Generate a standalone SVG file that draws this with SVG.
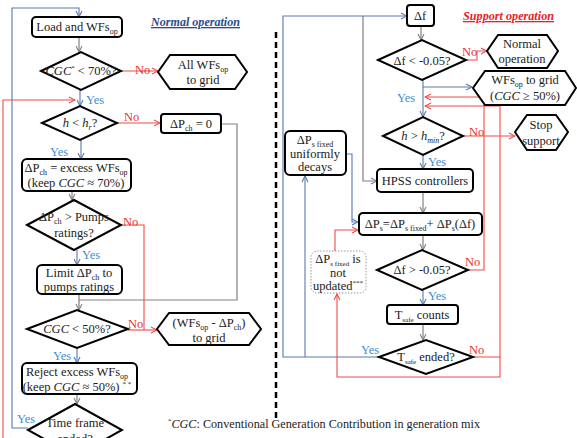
<svg xmlns="http://www.w3.org/2000/svg" width="577" height="438" viewBox="0 0 577 438" font-family="'Liberation Serif', 'DejaVu Serif', serif">
<style>
text{font-family:'Liberation Serif','DejaVu Serif',serif;font-size:12.5px;fill:#222;text-anchor:middle}
.box{fill:#fff;stroke:#000;stroke-width:2}
.dot{fill:#fff;stroke:#999;stroke-width:1;stroke-dasharray:1.5 1.5}
.g{fill:none;stroke:#808080;stroke-width:1.2}
.b{fill:none;stroke:#5a78b0;stroke-width:1.1}
.r{fill:none;stroke:#f04a4a;stroke-width:1.1}
.yes{fill:#3d8fd6;font-size:12.5px;text-anchor:start}
.no{fill:#f03030;font-size:12.5px;text-anchor:start}
.i{font-style:italic}
.s{font-size:8px}
.ttl{font-weight:bold;font-style:italic;text-decoration:underline;font-size:13px;text-anchor:start}
.fn{font-size:12.5px;text-anchor:start}
</style>
<defs>
<marker id="ag" markerWidth="8" markerHeight="8" refX="7" refY="4" orient="auto" markerUnits="userSpaceOnUse"><path d="M1,1 L7,4 L1,7" fill="none" stroke="#808080" stroke-width="1.1"/></marker>
<marker id="ab" markerWidth="8" markerHeight="8" refX="7" refY="4" orient="auto" markerUnits="userSpaceOnUse"><path d="M1,1 L7,4 L1,7" fill="none" stroke="#5a78b0" stroke-width="1.1"/></marker>
<marker id="ar" markerWidth="8" markerHeight="8" refX="7" refY="4" orient="auto" markerUnits="userSpaceOnUse"><path d="M1,1 L7,4 L1,7" fill="none" stroke="#f04a4a" stroke-width="1.1"/></marker>
</defs>

<g id="connectors">
<polyline class="b" points="28,428 12,428 12,8 79,8 79,17" marker-end="url(#ab)"/>
<line class="g" x1="79" y1="37" x2="79" y2="52" marker-end="url(#ag)"/>
<line class="r" x1="121" y1="71" x2="158" y2="71" marker-end="url(#ar)"/>
<line class="b" x1="80" y1="90" x2="80" y2="106" marker-end="url(#ab)"/>
<polyline class="r" points="3,438 3,100 75,100" marker-end="url(#ar)"/>
<line class="r" x1="117" y1="123" x2="160" y2="123" marker-end="url(#ar)"/>
<polyline class="g" points="221,124 237,124 237,300 79,300"/>
<line class="b" x1="81" y1="140" x2="81" y2="159" marker-end="url(#ab)"/>
<line class="g" x1="72" y1="191" x2="72" y2="200" marker-end="url(#ag)"/>
<polyline class="r" points="121,225 144,225 144,330"/>
<line class="b" x1="77" y1="250" x2="77" y2="265" marker-end="url(#ab)"/>
<line class="g" x1="79" y1="294" x2="79" y2="310" marker-end="url(#ag)"/>
<line class="r" x1="128" y1="330" x2="157" y2="330" marker-end="url(#ar)"/>
<line class="b" x1="77" y1="348" x2="77" y2="363" marker-end="url(#ab)"/>
<line class="g" x1="77" y1="394" x2="77" y2="404" marker-end="url(#ag)"/>
<polyline class="b" points="379,357 283,357 283,16 407,16" marker-end="url(#ab)"/>
<polyline class="g" points="363,16 363,181 377,181" marker-end="url(#ag)"/>
<line class="b" x1="305" y1="357" x2="305" y2="176" marker-end="url(#ab)"/>
<line class="g" x1="421" y1="26" x2="421" y2="40" marker-end="url(#ag)"/>
<polyline class="r" points="466,60 477,60 477,51 487,51" marker-end="url(#ar)"/>
<line class="b" x1="423" y1="80" x2="423" y2="117" marker-end="url(#ab)"/>
<polyline class="b" points="423,87 472,87" marker-end="url(#ab)"/>
<polyline class="r" points="468,270 484,270 484,97 425,97" marker-end="url(#ar)"/>
<polyline class="r" points="473,357 500,357 500,106 425,106" marker-end="url(#ar)"/>
<polyline class="r" points="500,357 500,377 337,377 337,294" marker-end="url(#ar)"/>
<line class="r" x1="463" y1="136" x2="515" y2="136" marker-end="url(#ar)"/>
<line class="b" x1="423" y1="155" x2="423" y2="169" marker-end="url(#ab)"/>
<line class="g" x1="423" y1="192" x2="423" y2="213" marker-end="url(#ag)"/>
<polyline class="b" points="346,154 352,154 352,222 358,222" marker-end="url(#ab)"/>
<polyline class="r" points="335,251 335,230 358,230" marker-end="url(#ar)"/>
<line class="g" x1="423" y1="235" x2="423" y2="250" marker-end="url(#ag)"/>
<line class="b" x1="423" y1="290" x2="423" y2="305" marker-end="url(#ab)"/>
<line class="g" x1="423" y1="324" x2="423" y2="340" marker-end="url(#ag)"/>
<line x1="276" y1="32" x2="276" y2="418" stroke="#000" stroke-width="2.5" stroke-dasharray="6 4"/>
<text class="no" x="135" y="74">No</text>
<text class="yes" x="86" y="104">Yes</text>
<text class="no" x="124" y="121">No</text>
<text class="yes" x="50" y="156">Yes</text>
<text class="no" x="123" y="226">No</text>
<text class="yes" x="82" y="259">Yes</text>
<text class="no" x="128" y="328">No</text>
<text class="yes" x="53" y="360">Yes</text>
<text class="yes" x="17" y="423">Yes</text>
<text class="no" x="462" y="56">No</text>
<text class="yes" x="397" y="102">Yes</text>
<text class="no" x="469" y="136">No</text>
<text class="yes" x="428" y="166">Yes</text>
<text class="no" x="465" y="266">No</text>
<text class="yes" x="428" y="300">Yes</text>
<text class="yes" x="361" y="354">Yes</text>
<text class="no" x="469" y="354">No</text>
</g>

<text class="ttl" x="151" y="26" style="fill:#2b4b8c" textLength="89" lengthAdjust="spacingAndGlyphs">Normal operation</text>
<text class="ttl" x="463" y="20" style="fill:#e8202a" textLength="91" lengthAdjust="spacingAndGlyphs">Support operation</text>

<g id="n-load"><rect class="box" x="32" y="17" width="90" height="20" rx="4"/><text x="77" y="31">Load and WFs<tspan class="s" baseline-shift="-3">op</tspan></text></g>
<g id="n-cgc70"><polygon class="box" points="41,71 81,52 121,71 81,90"/><text x="81" y="75"><tspan class="i">CGC</tspan><tspan font-size="7" baseline-shift="5">*</tspan> &lt; 70%?</text></g>
<g id="n-allwf"><polygon class="box" points="158,72 170,55 235,55 247,72 235,89 170,89"/><text x="203" y="69">All WFs<tspan class="s" baseline-shift="-3">op</tspan></text><text x="203" y="84">to grid</text></g>
<g id="n-hhr"><polygon class="box" points="42,123 80,106 117,123 80,140"/><text x="80" y="127"><tspan class="i">h</tspan> &lt; <tspan class="i">h</tspan><tspan class="s i" baseline-shift="-3">r</tspan>?</text></g>
<g id="n-pch0"><rect class="box" x="161" y="114" width="60" height="19" rx="3"/><text x="191" y="128">ΔP<tspan class="s" baseline-shift="-3">ch</tspan> = 0</text></g>
<g id="n-excess"><rect class="box" x="22" y="159" width="109" height="32" rx="5"/><text x="76" y="172">ΔP<tspan class="s" baseline-shift="-3">ch</tspan> = excess WFs<tspan class="s" baseline-shift="-3">op</tspan></text><text x="76" y="187">(keep <tspan class="i">CGC</tspan> ≈ 70%)</text></g>
<g id="n-pumps"><polygon class="box" points="27,225 74,200 121,225 74,250"/><text x="74" y="221">ΔP<tspan class="s" baseline-shift="-3">ch</tspan> &gt; Pumps</text><text x="74" y="237">ratings?</text></g>
<g id="n-limit"><rect class="box" x="37" y="265" width="85" height="29" rx="5"/><text x="79" y="277">Limit ΔP<tspan class="s" baseline-shift="-3">ch</tspan> to</text><text x="79" y="291">pumps ratings</text></g>
<g id="n-cgc50"><polygon class="box" points="27,329 77,310 128,329 77,348"/><text x="77" y="333"><tspan class="i">CGC</tspan> &lt; 50%?</text></g>
<g id="n-wfgrid"><polygon class="box" points="157,329 169,313 249,313 261,329 249,345 169,345"/><text x="209" y="327">(WFs<tspan class="s" baseline-shift="-3">op</tspan> - ΔP<tspan class="s" baseline-shift="-3">ch</tspan>)</text><text x="209" y="342">to grid</text></g>
<g id="n-reject"><rect class="box" x="22" y="363" width="115" height="31" rx="5"/><text x="77" y="376">Reject excess WFs<tspan class="s" baseline-shift="-3">op</tspan></text><text x="77" y="391">(keep <tspan class="i">CGC</tspan> ≈ 50%) <tspan font-size="7" baseline-shift="5">* *</tspan></text></g>
<g id="n-time"><polygon class="box" points="28,430 75,404 122,430 75,456"/><text x="75" y="427">Time frame</text><text x="75" y="443">ended?</text></g>

<g id="n-df"><rect class="box" x="407" y="5" width="27" height="21" rx="3"/><text x="420" y="20">Δf</text></g>
<g id="n-dflt"><polygon class="box" points="378,60 422,40 466,60 422,80"/><text x="422" y="65">Δf &lt; -0.05?</text></g>
<g id="n-normal"><polygon class="box" points="487,51 498,35 547,35 558,51 547,68 498,68"/><text x="522" y="48">Normal</text><text x="522" y="63">operation</text></g>
<g id="n-wfgrid2"><polygon class="box" points="473,88 485,71 565,71 576,88 565,105 485,105"/><text x="525" y="84">WFs<tspan class="s" baseline-shift="-3">op</tspan> to grid</text><text x="525" y="100">(<tspan class="i">CGC</tspan> ≥ 50%)</text></g>
<g id="n-hmin"><polygon class="box" points="383,136 423,117 463,136 423,155"/><text x="423" y="140"><tspan class="i">h</tspan> &gt; <tspan class="i">h</tspan><tspan class="i s" baseline-shift="-3">min</tspan>?</text></g>
<g id="n-stop"><polygon class="box" points="515,132 527,115 556,115 568,132 556,150 527,150"/><text x="541" y="129">Stop</text><text x="541" y="145">support</text></g>
<g id="n-hpss"><rect class="box" x="377" y="169" width="96" height="23" rx="4"/><text x="425" y="185">HPSS controllers</text></g>
<g id="n-decay"><rect class="box" x="285" y="131" width="61" height="44" rx="5"/><text x="315" y="144" font-size="13">ΔP<tspan class="s" baseline-shift="-3">s fixed</tspan></text><text x="315" y="158" font-size="13.5">uniformly</text><text x="315" y="171" font-size="13.5">decays</text></g>
<g id="n-dps"><rect class="box" x="359" y="213" width="123" height="22" rx="4"/><text x="420" y="228">ΔP<tspan class="s" baseline-shift="-3">s</tspan>=ΔP<tspan class="s" baseline-shift="-3">s fixed</tspan>+ ΔP<tspan class="s" baseline-shift="-3">s</tspan>(Δf)</text></g>
<g id="n-notupd"><rect class="dot" x="311" y="251" width="55" height="42" rx="6"/><text x="338" y="263">ΔP<tspan font-size="7" baseline-shift="-3">s fixed</tspan> is</text><text x="338" y="277">not</text><text x="338" y="290">updated<tspan font-size="7" baseline-shift="5">***</tspan></text></g>
<g id="n-dfgt"><polygon class="box" points="377,270 422,250 468,270 422,290"/><text x="422" y="274">Δf &gt; -0.05?</text></g>
<g id="n-tsafe"><rect class="box" x="387" y="305" width="71" height="19" rx="3"/><text x="422" y="319">T<tspan font-size="7" baseline-shift="-3">safe</tspan> counts</text></g>
<g id="n-tend"><polygon class="box" points="379,357 426,340 473,357 426,374"/><text x="426" y="361">T<tspan font-size="7" baseline-shift="-3">safe</tspan> ended?</text></g>

<text class="fn" x="168" y="428" textLength="312" lengthAdjust="spacingAndGlyphs"><tspan font-size="7" baseline-shift="5">*</tspan><tspan class="i">CGC</tspan>: Conventional Generation Contribution in generation mix</text>
<text class="fn" x="168" y="447" textLength="395" lengthAdjust="spacingAndGlyphs"><tspan font-size="7" baseline-shift="5">**</tspan>controlled window: excess WFs<tspan class="s" baseline-shift="-3">op</tspan> - ΔP<tspan class="s" baseline-shift="-3">ch</tspan> (Conventional generation at <tspan class="i">CGC</tspan> ≈ 50%)</text>
</svg>
